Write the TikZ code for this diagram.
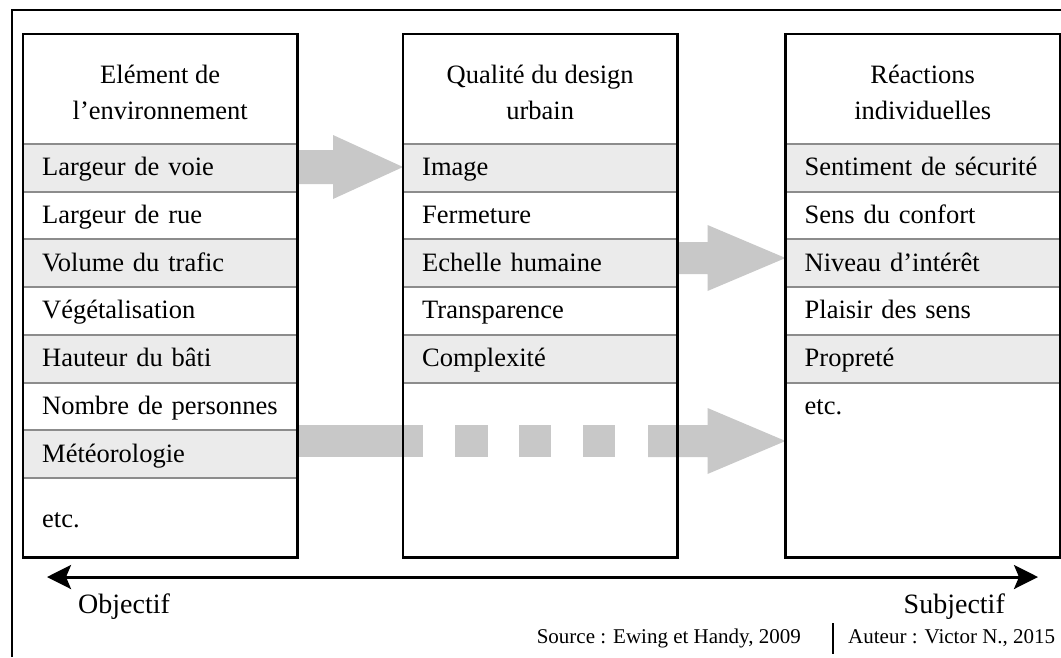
\documentclass[tikz,border=0pt]{standalone}
\usepackage{fontspec}
\setmainfont{Liberation Serif}
\usetikzlibrary{calc,arrows.meta}
\definecolor{rowgray}{HTML}{EBEBEB}
\definecolor{arrowgray}{HTML}{C8C8C8}
\definecolor{linegray}{HTML}{8C8C8C}
\begin{document}
\begin{tikzpicture}[x=1pt,y=-1pt,
  colbox/.style={minimum width=274pt, minimum height=523pt, inner sep=0pt, anchor=north west},
  boxline/.style={line width=2.5pt, black},
  rowcell/.style={minimum width=274pt, minimum height=47.3pt, inner sep=0pt, anchor=north west,
    text width=236pt, align=left, text height=21pt, text depth=5pt, font=\fontsize{26.5}{30}\selectfont},
  grayrow/.style={rowcell, fill=rowgray},
  headtext/.style={font=\fontsize{26.5}{36}\selectfont, align=center, inner sep=0pt},
  rowline/.style={linegray, line width=2pt},
  arrowfill/.style={fill=arrowgray},
  frameline/.style={line width=2pt, black},
  scaletext/.style={font=\fontsize{28}{30}\selectfont, inner sep=0pt},
  srctext/.style={font=\fontsize{21}{24}\selectfont, inner sep=0pt}]
\useasboundingbox (0,0) rectangle (1061,657);
\fill[white] (0,0) rectangle (1061,657);

% outer frame (cropped)
\draw[frameline] (12,657) -- (12,10) -- (1061,10);

% column boxes (borders drawn at the end)
\path node[colbox] (b1) at (23,34) {};
\path node[colbox] (b2) at (403,34) {};
\path node[colbox] (b3) at (785.5,34) {};

% headers
\node[headtext] (h1) at ($(b1.north)+(0,58)$) {Elément de\\l’environnement};
\node[headtext] (h2) at ($(b2.north)+(0,58)$) {Qualité du design\\urbain};
\node[headtext] (h3) at ($(b3.north)+(0,58)$) {Réactions\\individuelles};

% column 1 rows
\node[grayrow] (c1r1) at ($(b1.north west)+(0,110)$) {Largeur de voie};
\node[rowcell] (c1r2) at (c1r1.south west) {Largeur de rue};
\node[grayrow] (c1r3) at (c1r2.south west) {Volume du trafic};
\node[rowcell] (c1r4) at (c1r3.south west) {Végétalisation};
\node[grayrow] (c1r5) at (c1r4.south west) {Hauteur du bâti};
\node[rowcell] (c1r6) at (c1r5.south west) {Nombre de personnes};
\node[grayrow] (c1r7) at (c1r6.south west) {Météorologie};
\node[rowcell, minimum height=81.9pt] (c1r8) at (c1r7.south west) {etc.};

% column 2 rows
\node[grayrow] (c2r1) at ($(b2.north west)+(0,110)$) {Image};
\node[rowcell] (c2r2) at (c2r1.south west) {Fermeture};
\node[grayrow] (c2r3) at (c2r2.south west) {Echelle humaine};
\node[rowcell] (c2r4) at (c2r3.south west) {Transparence};
\node[grayrow] (c2r5) at (c2r4.south west) {Complexité};

% column 3 rows
\node[grayrow] (c3r1) at ($(b3.north west)+(0,110)$) {Sentiment de sécurité};
\node[rowcell] (c3r2) at (c3r1.south west) {Sens du confort};
\node[grayrow] (c3r3) at (c3r2.south west) {Niveau d’intérêt};
\node[rowcell] (c3r4) at (c3r3.south west) {Plaisir des sens};
\node[grayrow] (c3r5) at (c3r4.south west) {Propreté};
\node[rowcell] (c3r6) at (c3r5.south west) {etc.};

% row separator lines
\foreach \r in {c1r1,c1r3,c1r5,c1r7,c2r1,c2r3,c2r5,c3r1,c3r3,c3r5}{
  \draw[rowline] (\r.north west) -- (\r.north east);
  \draw[rowline] (\r.south west) -- (\r.south east);
}

% arrow 1: Element -> Qualite
\fill[arrowfill] ($(b1.north east)+(0,116)$) -- ($(b2.north west)+(-70,116)$) -- ($(b2.north west)+(-70,101)$)
  -- ($(b2.north west)+(0,133)$) -- ($(b2.north west)+(-70,165)$) -- ($(b2.north west)+(-70,150)$)
  -- ($(b1.north east)+(0,150)$) -- cycle;

% arrow 2: Qualite -> Reactions
\fill[arrowfill] ($(b2.north east)+(0,208)$) -- ($(b3.north west)+(-78,208)$) -- ($(b3.north west)+(-78,191)$)
  -- ($(b3.north west)+(0,224)$) -- ($(b3.north west)+(-78,257)$) -- ($(b3.north west)+(-78,240)$)
  -- ($(b2.north east)+(0,240)$) -- cycle;

% dashed arrow: Element -> Reactions
\fill[arrowfill] ($(b1.north east)+(0,391)$) rectangle ($(b2.north west)+(20,423)$);
\fill[arrowfill] ($(b2.north west)+(52,391)$) rectangle ($(b2.north west)+(85,423)$);
\fill[arrowfill] ($(b2.north west)+(116,391)$) rectangle ($(b2.north west)+(148,423)$);
\fill[arrowfill] ($(b2.north west)+(180,391)$) rectangle ($(b2.north west)+(212,423)$);
\fill[arrowfill] ($(b2.north west)+(245,391)$) -- ($(b3.north west)+(-78,391)$) -- ($(b3.north west)+(-78,374)$)
  -- ($(b3.north west)+(0,407)$) -- ($(b3.north west)+(-78,440)$) -- ($(b3.north west)+(-78,423)$)
  -- ($(b2.north west)+(245,423)$) -- cycle;

% box borders
\foreach \b in {b1,b2,b3}{
  \draw[boxline] (\b.north west) rectangle (\b.south east);
}

% objective / subjective scale
\coordinate (sL) at (47,577);
\coordinate (sR) at (1038,577);
\draw[line width=3pt, {Stealth[length=24pt,width=24pt,inset=5pt]}-{Stealth[length=24pt,width=24pt,inset=5pt]}] (sL) -- (sR);
\node[scaletext, anchor=west] (obj) at (78,607) {Objectif};
\node[scaletext, anchor=east] (sub) at (1005,607) {Subjectif};

% source line
\node[srctext, anchor=east] (src) at (801,638) {Source : Ewing et Handy, 2009};
\draw[line width=2.5pt] (833,623) -- (833,654);
\node[srctext, anchor=west] (aut) at (848,638) {Auteur : Victor N., 2015};
\end{tikzpicture}
\end{document}
